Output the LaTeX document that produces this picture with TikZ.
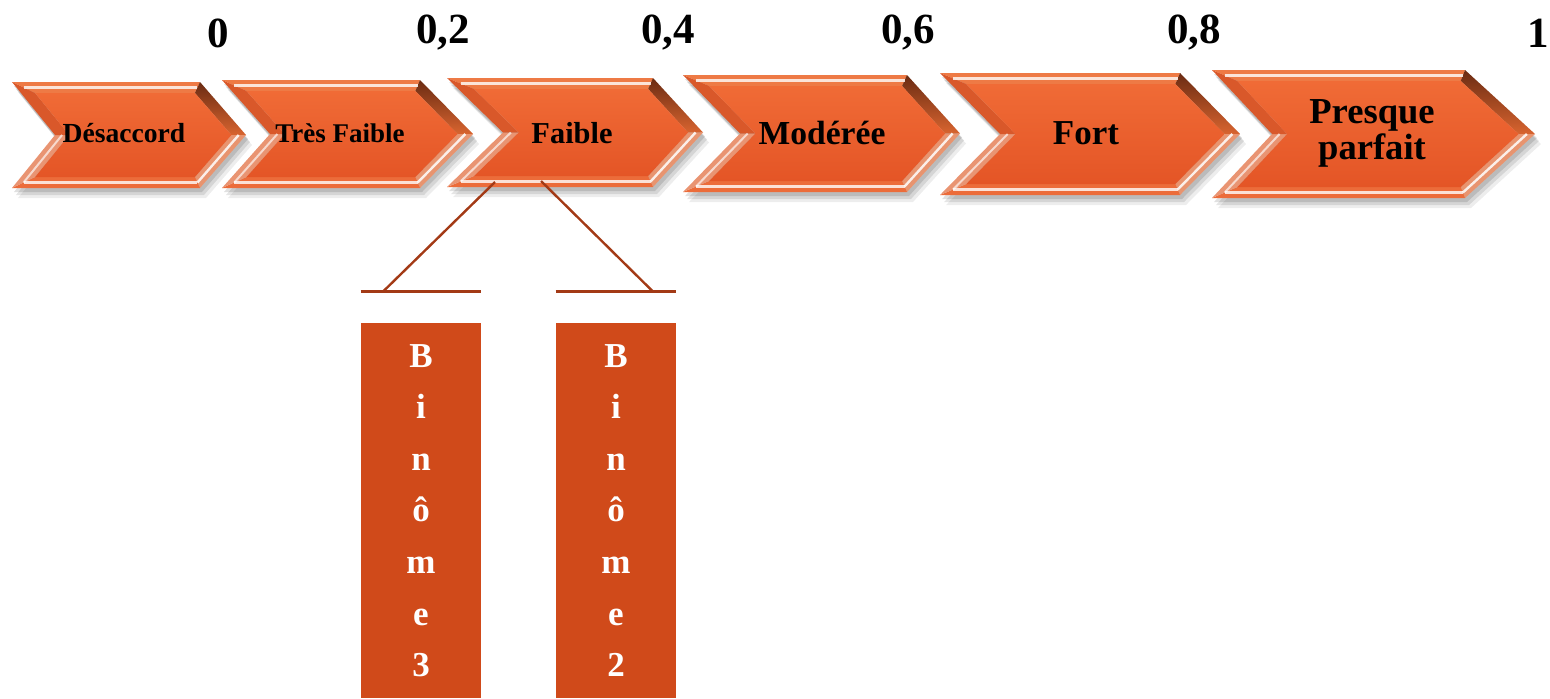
\documentclass[tikz,border=0pt]{standalone}
\usepackage{fontspec}
\setmainfont{Liberation Serif}
\usetikzlibrary{calc}
\definecolor{facetop}{HTML}{F06B36}
\definecolor{facebot}{HTML}{E45526}
\definecolor{bevtop}{HTML}{EE7A45}
\definecolor{bevur}{HTML}{A4431D}
\definecolor{bevurl}{HTML}{D8642F}
\definecolor{bevlr}{HTML}{E8946F}
\definecolor{bevbot}{HTML}{EC6C3A}
\definecolor{bevul}{HTML}{D9582A}
\definecolor{bevll}{HTML}{E99472}
\definecolor{boxfill}{HTML}{D04A1A}
\definecolor{linkcol}{HTML}{A33A16}
\tikzset{
  chevtext/.style={font=\bfseries, text=black, align=center, inner sep=0pt},
  numlabel/.style={font=\fontsize{21.5}{24}\selectfont\bfseries, text=black, inner sep=0pt},
  binbox/.style={fill=boxfill, minimum width=60pt, minimum height=187.5pt, inner sep=0pt,
     text=white, align=center, font=\fontsize{17.5}{25.8}\selectfont\bfseries},
  link/.style={draw=linkcol, line width=1.5pt},
}
% #1 xl, #2 xn, #3 xc, #4 xt, #5 yt, #6 yb
\newcommand\mychevron[6]{%
  \pgfmathsetmacro\bv{11}%
  \pgfmathsetmacro\hh{(#6-#5)/2}%
  \pgfmathsetmacro\ym{(#5+#6)/2}%
  \pgfmathsetmacro\dxr{#4-#3}%
  \pgfmathsetmacro\sr{\bv*sqrt(\dxr*\dxr+\hh*\hh)/\hh}%
  \pgfmathsetmacro\xti{#4-\sr}%
  \pgfmathsetmacro\xci{#3-\sr+\bv*\dxr/\hh}%
  \pgfmathsetmacro\dxl{#2-#1}%
  \pgfmathsetmacro\sl{\bv*sqrt(\dxl*\dxl+\hh*\hh)/\hh}%
  \pgfmathsetmacro\xni{#2+\sl}%
  \pgfmathsetmacro\xli{#1+\sl+\bv*\dxl/\hh}%
  \pgfmathsetmacro\yti{#5+\bv}%
  \pgfmathsetmacro\ybi{#6-\bv}%
  % shadow
  \foreach \sx/\sy/\op in {2/4/0.12,4/7/0.10,6/10/0.07}{%
    \fill[black, opacity=\op] (#1+\sx,#5+\sy) -- (#3+\sx,#5+\sy) -- (#4+\sx,\ym+\sy) -- (#3+\sx,#6+\sy) -- (#1+\sx,#6+\sy) -- (#2+\sx,\ym+\sy) -- cycle;}
  % facets
  \fill[bevtop] (#1,#5) -- (#3,#5) -- (\xci,\yti) -- (\xli,\yti) -- cycle;
  \shade[top color=bevur!65!black, bottom color=bevurl] (#3,#5) -- (#4,\ym) -- (\xti,\ym) -- (\xci,\yti) -- cycle;
  \fill[bevlr] (#4,\ym) -- (#3,#6) -- (\xci,\ybi) -- (\xti,\ym) -- cycle;
  \fill[bevbot] (#3,#6) -- (#1,#6) -- (\xli,\ybi) -- (\xci,\ybi) -- cycle;
  \fill[bevll] (#1,#6) -- (#2,\ym) -- (\xni,\ym) -- (\xli,\ybi) -- cycle;
  \fill[bevul] (#2,\ym) -- (#1,#5) -- (\xli,\yti) -- (\xni,\ym) -- cycle;
  % highlight lines
  \draw[white, opacity=0.8, line width=1.3pt] (#1+\sl*0.5+\bv*0.5*\dxl/\hh,#5+\bv*0.5) -- (#3-\sr*0.5+\bv*0.5*\dxr/\hh,#5+\bv*0.5);
  \draw[white, opacity=0.8, line width=1.3pt] (#1+\sl*0.5+\bv*0.5*\dxl/\hh,#6-\bv*0.5) -- (#3-\sr*0.5+\bv*0.5*\dxr/\hh,#6-\bv*0.5);
  \draw[white, opacity=0.85, line width=1.2pt] (#4-\sr*0.5,\ym) -- (#3-\sr*0.5+\bv*0.5*\dxr/\hh,#6-\bv*0.5);
  \draw[white, opacity=0.65, line width=1.0pt] (#2+\sl*0.5,\ym) -- (#1+\sl*0.5+\bv*0.5*\dxl/\hh,#6-\bv*0.5);
  % face
  \shade[top color=facetop, bottom color=facebot] (\xli,\yti) -- (\xci,\yti) -- (\xti,\ym) -- (\xci,\ybi) -- (\xli,\ybi) -- (\xni,\ym) -- cycle;
}
\begin{document}
\begin{tikzpicture}[x=0.5pt, y=-0.5pt]
\useasboundingbox (0,0) rectangle (1550,698);
% scale labels
\node[numlabel] (n0) at (218,33) {0};
\node[numlabel] (n2) at (443,33) {0,2};
\node[numlabel] (n4) at (668,33) {0,4};
\node[numlabel] (n6) at (908,33) {0,6};
\node[numlabel] (n8) at (1194,33) {0,8};
\node[numlabel] (n10) at (1538,33) {1};
% chevrons
\mychevron{12}{55}{200}{246}{82}{188}
\mychevron{222}{270}{420}{473}{80}{188}
\mychevron{447}{503}{653}{703}{78}{187}
\mychevron{683}{740}{907}{960}{75}{192}
\mychevron{940}{1000}{1180}{1240}{73}{195}
\mychevron{1212}{1272}{1465}{1535}{70}{198}
\node[chevtext, font=\fontsize{13.8}{16}\selectfont\bfseries] (desaccord) at (124,133) {Désaccord};
\node[chevtext, font=\fontsize{13.5}{16}\selectfont\bfseries] (tresfaible) at (340,133) {Très Faible};
\node[chevtext, font=\fontsize{15.2}{18}\selectfont\bfseries] (faible) at (572,133) {Faible};
\node[chevtext, font=\fontsize{16.8}{19}\selectfont\bfseries] (moderee) at (822,133) {Modérée};
\node[chevtext, font=\fontsize{17.5}{20}\selectfont\bfseries] (fort) at (1086,133) {Fort};
\node[chevtext, font=\fontsize{18.3}{18}\selectfont\bfseries] (presque) at (1372,133) {Presque\\parfait};
% binome boxes
\node[binbox] (b3) at (421,510.5) {B\\i\\n\\ô\\m\\e\\3};
\node[binbox] (b2) at (616,510.5) {B\\i\\n\\ô\\m\\e\\2};
\coordinate (bar3) at ($(b3.north)+(-38,-31)$);
\coordinate (bar2) at ($(b2.north)+(37,-31)$);
\draw[link] ($(b3.north west)+(0,-31)$) -- ($(b3.north east)+(0,-31)$);
\draw[link] ($(b2.north west)+(0,-31)$) -- ($(b2.north east)+(0,-31)$);
\draw[link, line width=1.2pt] ($(faible)+(-77,49)$) -- (bar3);
\draw[link, line width=1.2pt] ($(faible)+(-31,48)$) -- (bar2);
\end{tikzpicture}
\end{document}
